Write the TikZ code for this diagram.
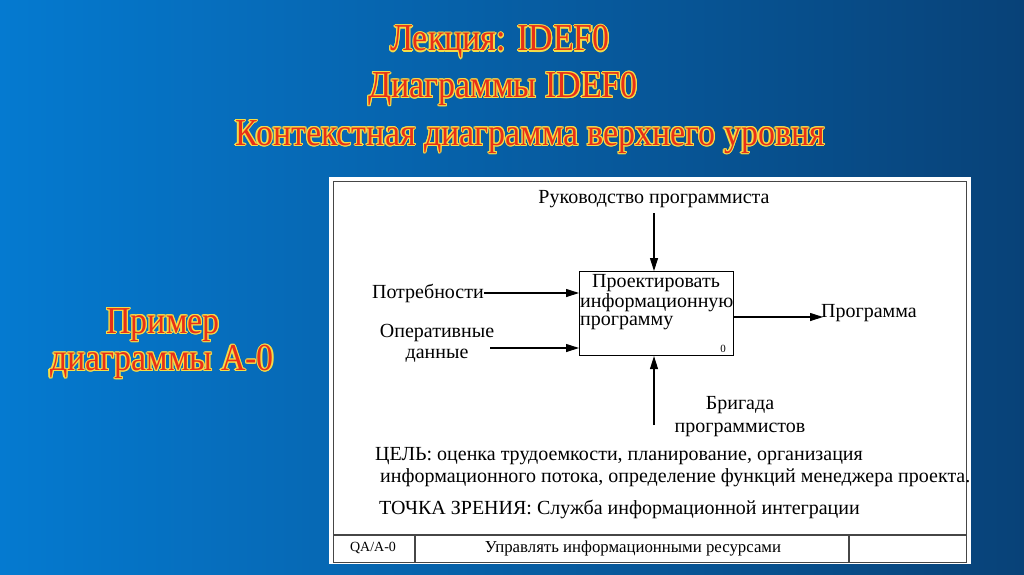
\documentclass[tikz,border=0pt]{standalone}
\usepackage{fontspec}
\setmainfont{Liberation Serif}
\usetikzlibrary{arrows.meta}
\definecolor{bgL}{RGB}{5,122,208}
\definecolor{bgR}{RGB}{8,66,120}
\definecolor{ttlRed}{RGB}{232,48,24}
\definecolor{ttlYel}{RGB}{245,220,70}
\definecolor{frameGray}{RGB}{70,70,70}
\tikzset{
  ttlfont/.style={font=\fontsize{34}{38}\selectfont, inner sep=0pt},
  ttlshadow/.style={ttlfont, text=ttlYel},
  ttlmain/.style={ttlfont, text=ttlRed},
  dg/.style={font=\fontsize{20}{20}\selectfont, inner sep=0pt, text=black},
  arr/.style={line width=1.1pt, -{Triangle[length=13pt,width=8pt]}},
  fbox/.style={draw, line width=1.1pt, minimum width=154pt, minimum height=84pt, anchor=north west, inner sep=0pt}
}
\newcommand\outlinedtitle[3]{%
  \foreach \a in {0,30,...,330}{\node[ttlshadow, shift={(\a:1.1pt)}] (#1-s\a) at (#2) {\scalebox{1}[1.12]{#3}};}
  \node[ttlmain] (#1) at (#2) {\scalebox{1}[1.12]{#3}};}
\begin{document}
\begin{tikzpicture}[x=1pt,y=-1pt]
\useasboundingbox (0,0) rectangle (1024,574);
\shade[left color=bgL, right color=bgR] (0,0) rectangle (1024,574);
% titles
\outlinedtitle{t1}{500,42}{Лекция: IDEF0}
\outlinedtitle{t2}{503,89}{Диаграммы IDEF0}
\outlinedtitle{t3}{530,137}{Контекстная диаграмма верхнего уровня}
\outlinedtitle{t4}{163,325}{Пример}
\outlinedtitle{t5}{162,362}{диаграммы А-0}
% panel
\fill[white] (329,177) rectangle (971,564);
\draw[frameGray, line width=1.4pt] (333.5,181.5) rectangle (966.5,562.5);
\draw[frameGray, line width=1.2pt] (333.5,535) -- (966.5,535);
\draw[frameGray, line width=1.2pt] (415,535) -- (415,562.5);
\draw[frameGray, line width=1.2pt] (849,535) -- (849,562.5);
% function box
\node[fbox] (box) at (579,271) {};
\node[dg, anchor=center] (f1) at (656,283) {Проектировать};
\node[dg, anchor=west] (f2) at (580,303) {информационную};
\node[dg, anchor=west] (f3) at (580,323) {программу};
\node[dg, font=\fontsize{11}{12}\selectfont, anchor=center] (fnum) at (723,349) {0};
% control
\node[dg] (ctl) at (654,199) {Руководство программиста};
\coordinate (ctlS) at (654,213);
\draw[arr] (ctlS) -- (ctlS |- box.north);
% inputs
\node[dg, anchor=east] (in1) at (484,293) {Потребности};
\draw[arr] (in1.east) -- (in1.east -| box.west);
\node[dg, align=center] (in2) at (437,343) {Оперативные\\[1pt]данные};
\coordinate (in2S) at (490,348);
\draw[arr] (in2S) -- (in2S -| box.west);
% output
\node[dg, anchor=west] (out) at (821,313) {Программа};
\coordinate (outE) at (823,317);
\draw[arr] (outE -| box.east) -- (outE);
% mechanism
\node[dg, align=center] (mech) at (740,417) {Бригада\\[3pt]программистов};
\coordinate (mechS) at (654,425);
\draw[arr] (mechS) -- (mechS |- box.south);
% notes
\node[dg, anchor=west] (goal1) at (375,456) {ЦЕЛЬ: оценка трудоемкости, планирование, организация};
\node[dg, anchor=west] (goal2) at (380,478) {информационного потока, определение функций менеджера проекта.};
\node[dg, anchor=west] (view) at (379,509) {ТОЧКА ЗРЕНИЯ: Служба информационной интеграции};
% footer
\node[dg, font=\fontsize{14}{16}\selectfont] (node) at (373,548) {QA/A-0};
\node[dg, font=\fontsize{16.8}{18}\selectfont] (ftitle) at (633,548) {Управлять информационными ресурсами};
\end{tikzpicture}
\end{document}
